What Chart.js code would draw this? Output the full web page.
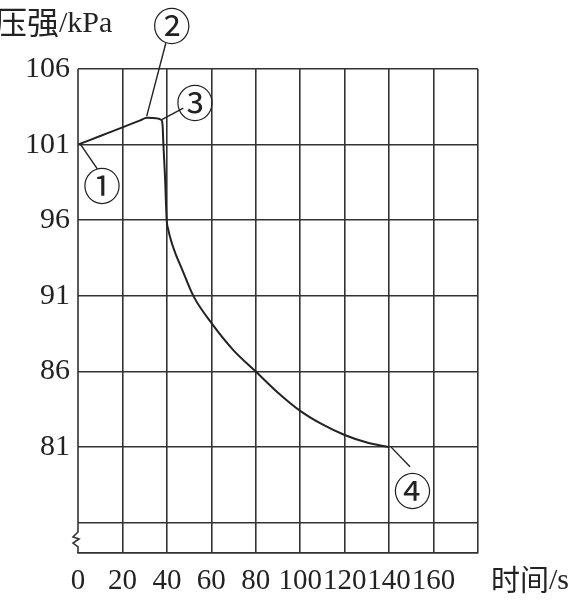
<!DOCTYPE html>
<html>
<head>
<meta charset="utf-8">
<script src="https://cdn.jsdelivr.net/npm/chart.js@4.4.1/dist/chart.umd.min.js"></script>
<style>
  html, body { margin: 0; padding: 0; background: #fff; }
  #wrap { width: 581px; height: 601px; }
</style>
</head>
<body>
<div id="wrap"><canvas id="chart"></canvas></div>
<script>
// 时间 (s) 与 压强 (kPa)
const timeS = [0, 10, 20, 28, 31, 35, 37.6, 38.1, 38.4, 39.15, 39.9, 40.6, 42.2, 44, 46.7, 51.9, 60.6, 70, 80, 90, 100, 110, 120, 130, 140];
const pressureKPa = [101, 101.57, 102.14, 102.6, 102.77, 102.75, 102.62, 102.2, 101.1, 98.9, 96.05, 95.4, 94.5, 93.75, 92.8, 91, 89.1, 87.4, 86, 84.6, 83.4, 82.5, 81.8, 81.3, 81];

const yTicks = [74, 76, 81, 86, 91, 96, 101, 106];
const yLabeled = [81, 86, 91, 96, 101, 106];

// 标注 ①②③④：文字位置与引线 (数据坐标)
const markLabels = ['①', '②', '③', '④'];
const markText = [[10.8, 98.3], [42.2, 108.9], [52.7, 103.8], [150.5, 78.1]];
const markLine = [
    [[1.2, 101], [8.7, 99.4]],
    [[30.9, 102.87], [39.5, 107.7]],
    [[37.7, 102.65], [47.4, 103.42]],
    [[140.9, 81.0], [149.4, 79.7]]
];

const ink = '#222';
const gridInk = '#333';
const numFont = '"Liberation Serif", "DejaVu Serif", serif';
const cjkFont = '"Noto Sans CJK SC", sans-serif';

// 左轴（带折断符号）、轴标题和标注
const decorPlugin = {
    id: 'decor',
    afterDraw(chart) {
        const { ctx, chartArea: a, scales: { x, y } } = chart;
        ctx.save();
        ctx.strokeStyle = gridInk;
        ctx.lineWidth = 1.6;
        ctx.beginPath();
        const lx = a.left;
        ctx.moveTo(lx, a.top);
        ctx.lineTo(lx, a.bottom - 21);
        ctx.lineTo(lx - 5, a.bottom - 16);
        ctx.lineTo(lx + 1, a.bottom - 14);
        ctx.lineTo(lx - 5, a.bottom - 10);
        ctx.lineTo(lx, a.bottom - 6);
        ctx.lineTo(lx, a.bottom);
        ctx.stroke();

        ctx.strokeStyle = ink;
        ctx.lineWidth = 1.4;
        markLine.forEach(([p, q]) => {
            ctx.beginPath();
            ctx.moveTo(x.getPixelForValue(p[0]), y.getPixelForValue(p[1]));
            ctx.lineTo(x.getPixelForValue(q[0]), y.getPixelForValue(q[1]));
            ctx.stroke();
        });

        ctx.fillStyle = ink;
        ctx.textAlign = 'center';
        ctx.textBaseline = 'middle';
        ctx.font = '38px ' + cjkFont;
        markLabels.forEach((t, i) => {
            ctx.fillText(t, x.getPixelForValue(markText[i][0]), y.getPixelForValue(markText[i][1]));
        });

        // 轴标题：中文 + 西文单位
        ctx.textAlign = 'left';
        ctx.textBaseline = 'alphabetic';
        ctx.font = '32px ' + cjkFont;
        ctx.fillText('压强', -5, 34);
        let w = ctx.measureText('压强').width;
        ctx.font = '30px ' + numFont;
        ctx.fillText('/kPa', -5 + w, 32);

        ctx.font = '29px ' + cjkFont;
        ctx.fillText('时间', 491, 591);
        w = ctx.measureText('时间').width;
        ctx.font = '30px ' + numFont;
        ctx.fillText('/s', 491 + w, 589);
        ctx.restore();
    }
};

new Chart(document.getElementById('chart'), {
    type: 'line',
    data: {
        datasets: [{
            data: timeS.map((t, i) => ({ x: t, y: pressureKPa[i] })),
            borderColor: ink,
            borderWidth: 2,
            pointRadius: 0,
            fill: false,
            cubicInterpolationMode: 'monotone'
        }]
    },
    options: {
        responsive: true,
        maintainAspectRatio: false,
        animation: false,
        layout: { padding: { left: 0, right: 103, top: 69, bottom: 0 } },
        plugins: { legend: { display: false }, tooltip: { enabled: false } },
        scales: {
            x: {
                type: 'linear',
                min: 0,
                max: 180,
                ticks: {
                    stepSize: 20,
                    color: ink,
                    font: { family: numFont, size: 29 },
                    padding: 11,
                    maxRotation: 0,
                    autoSkip: false,
                    callback: v => (v === 180 ? '' : String(v))
                },
                grid: {
                    color: c => (c.tick && c.tick.value === 0 ? 'rgba(0,0,0,0)' : gridInk),
                    lineWidth: 1.6,
                    drawTicks: false
                },
                border: { display: true, color: gridInk, width: 1.6 },
                afterFit: s => { s.height = 48; }
            },
            y: {
                type: 'linear',
                min: 74,
                max: 106,
                afterBuildTicks: s => { s.ticks = yTicks.map(v => ({ value: v })); },
                ticks: {
                    color: ink,
                    font: { family: numFont, size: 30 },
                    padding: 8,
                    autoSkip: false,
                    callback: v => (yLabeled.includes(v) ? String(v) : '')
                },
                grid: { color: gridInk, lineWidth: 1.6, drawTicks: false },
                border: { display: false },
                afterFit: s => { s.width = 78; }
            }
        }
    },
    plugins: [decorPlugin]
});
</script>
</body>
</html>
